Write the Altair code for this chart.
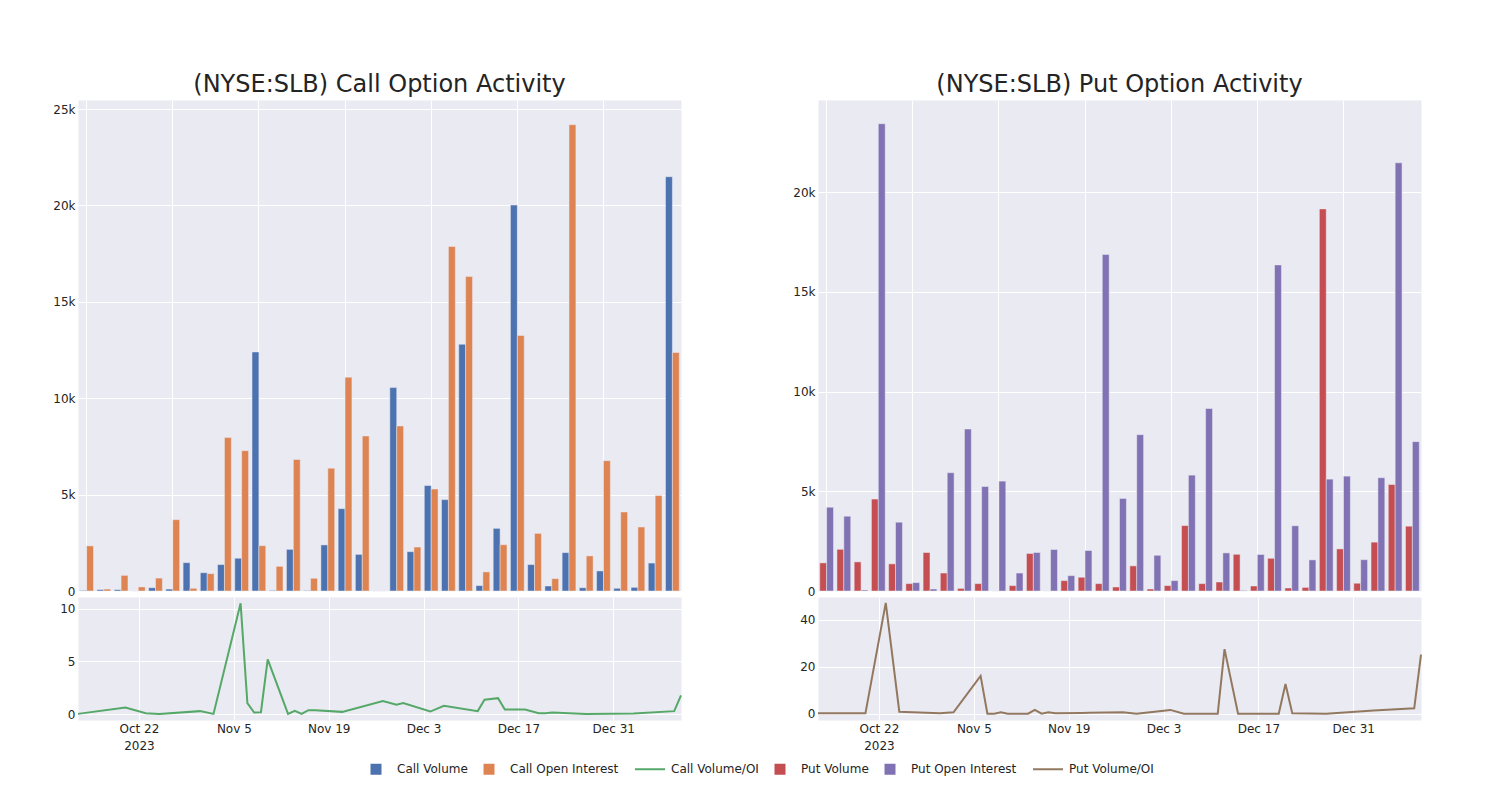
import altair as alt
import pandas as pd

# ---------------- data ----------------
dates = ["2023-10-13", "2023-10-20", "2023-10-23", "2023-10-25", "2023-10-31",
         "2023-11-02", "2023-11-06", "2023-11-07", "2023-11-08", "2023-11-09",
         "2023-11-10", "2023-11-13", "2023-11-14", "2023-11-15", "2023-11-16",
         "2023-11-17", "2023-11-21", "2023-11-22", "2023-11-27", "2023-11-29",
         "2023-11-30", "2023-12-04", "2023-12-06", "2023-12-11", "2023-12-12",
         "2023-12-14", "2023-12-15", "2023-12-18", "2023-12-20", "2023-12-21",
         "2023-12-22", "2023-12-27", "2024-01-03", "2024-01-09", "2024-01-10"]

call_volume = [30, 70, 70, 0, 170, 100, 1470, 950, 1370, 1700,
               12400, 30, 2160, 20, 2390, 4270, 1900, 0, 10550, 2040,
               5470, 4740, 12800, 280, 3250, 20020, 1370, 260, 1990, 170,
               1040, 140, 190, 1450, 21490]
call_oi = [2340, 100, 810, 210, 670, 3700, 140, 900, 7960, 7280,
           2350, 1280, 6820, 660, 6370, 11090, 8040, 0, 8560, 2280,
           5290, 17870, 16310, 990, 2400, 13250, 2990, 640, 24190, 1820,
           6760, 4100, 3320, 4950, 12370]
call_ratio = [0.03, 0.63, 0.1, 0.03, 0.29, 0.03, 10.5, 1.05, 0.16, 0.19,
              5.2, 0.03, 0.32, 0.03, 0.38, 0.38, 0.22, None, 1.24, 0.89,
              1.05, 0.25, 0.79, 0.29, 1.37, 1.52, 0.44, 0.44, 0.1, 0.09,
              0.16, 0.03, 0.06, 0.29, 1.78]

put_volume = [1410, 2090, 1460, 4610, 1360, 370, 1930, 900, 130, 370,
              0, 270, 1880, 0, 520, 690, 370, 200, 1260, 100,
              270, 3280, 370, 450, 1840, 250, 1640, 150, 180, 19160,
              2110, 390, 2450, 5340, 3250]
put_oi = [4200, 3750, 50, 23430, 3450, 420, 100, 5930, 8120, 5240,
          5510, 900, 1930, 2080, 770, 2030, 16870, 4640, 7840, 1790,
          520, 5810, 9150, 1910, 30, 1830, 16350, 3270, 1560, 5610,
          5760, 1570, 5680, 21470, 7490]
put_ratio = [0.15, 0.15, 47.2, 0.85, 0.15, 0.57, 16.1, 0.0, 0.0, 0.57,
             0.0, 0.0, 1.6, 0.0, 0.57, 0.15, 0.3, 0.4, 0.6, 0.0,
             0.3, 1.6, 0.0, 0.0, 27.5, 0.0, 0.0, 0.0, 0.0, 12.6,
             0.15, 0.0, 1.3, 2.3, 25.2]

series_names = ["Call Volume", "Call Open Interest", "Call Volume/OI",
                "Put Volume", "Put Open Interest", "Put Volume/OI"]
series_colors = ["#4C72B0", "#DD8452", "#55A868", "#C44E52", "#8172B3", "#937860"]
line_series = ["Call Volume/OI", "Put Volume/OI"]

FONT = "DejaVu Sans"
TXT = "#242424"
BG = "#EAEAF2"
W = 603
H_TOP = 491
H_BOT = 123


def bars_frame(vol, oi, vname, oname):
    rows = []
    for d, v, o in zip(dates, vol, oi):
        rows.append({"date": d, "series": vname, "value": v})
        rows.append({"date": d, "series": oname, "value": o})
    return pd.DataFrame(rows)


def line_frame(ratio, name):
    return pd.DataFrame({"date": dates, "series": name, "value": ratio})


color_scale = alt.Scale(domain=series_names, range=series_colors)
k_expr = "datum.value == 0 ? '0' : format(datum.value / 1000, 'd') + 'k'"

shape_expr = ("(datum && indexof(['" + "','".join(line_series) + "'], datum.value) >= 0) ? "
              "'M-3,-0.9M-3,0.9M-3,0H3' : 'M-0.9,-0.9H0.9V0.9H-0.9Z'")
stroke_expr = "datum ? scale('color', datum.value) : 'transparent'"
main_legend = alt.Legend(
    title=None, orient="none", direction="horizontal", legendX=292, legendY=663,
    symbolType=alt.ExprRef(expr=shape_expr),
    symbolStrokeColor=alt.ExprRef(expr=stroke_expr),
    symbolStrokeWidth=2,
)


def bar_panel(df, title, ymax, pair, legend):
    return alt.Chart(df, title=alt.Title(
        title, fontSize=24, font=FONT, color=TXT, fontWeight="normal",
        anchor="middle", offset=3)).mark_bar(
        stroke=BG, strokeWidth=0.5
    ).encode(
        x=alt.X("date:N", sort=dates,
                scale=alt.Scale(paddingInner=0.2, paddingOuter=0.1),
                axis=alt.Axis(labels=False, title=None, grid=True,
                              values=dates[::5], bandPosition=0.5)),
        xOffset=alt.XOffset("series:N", sort=pair),
        y=alt.Y("value:Q", scale=alt.Scale(domain=[0, ymax], nice=False),
                axis=alt.Axis(values=[0, 5000, 10000, 15000, 20000, 25000],
                              labelExpr=k_expr, title=None)),
        color=alt.Color("series:N", scale=color_scale, legend=legend),
    ).properties(width=W, height=H_TOP).resolve_scale(xOffset="independent")


label_expr = ("(utcmonth(datum.value) == 9 && utcdate(datum.value) == 22) ? "
              "[utcFormat(datum.value, '%b %-d'), '2023'] : utcFormat(datum.value, '%b %-d')")
tick_dates = [alt.DateTime(year=2023, month=10, date=22, utc=True),
              alt.DateTime(year=2023, month=11, date=5, utc=True),
              alt.DateTime(year=2023, month=11, date=19, utc=True),
              alt.DateTime(year=2023, month=12, date=3, utc=True),
              alt.DateTime(year=2023, month=12, date=17, utc=True),
              alt.DateTime(year=2023, month=12, date=31, utc=True)]
x_domain = [alt.DateTime(year=2023, month=10, date=13, utc=True),
            alt.DateTime(year=2024, month=1, date=10, utc=True)]


def line_panel(df, ydom, yticks):
    return alt.Chart(df).transform_filter("isValid(datum.value)").mark_line(
        strokeWidth=2
    ).encode(
        x=alt.X("date:T", scale=alt.Scale(type="utc", domain=x_domain, nice=False),
                axis=alt.Axis(values=tick_dates, labelExpr=label_expr, title=None,
                              labelLineHeight=17)),
        y=alt.Y("value:Q", scale=alt.Scale(domain=ydom, nice=False, zero=False),
                axis=alt.Axis(values=yticks, title=None)),
        color=alt.Color("series:N", scale=color_scale, legend=None),
    ).properties(width=W, height=H_BOT)


call_top = bar_panel(bars_frame(call_volume, call_oi, "Call Volume", "Call Open Interest"),
                     "(NYSE:SLB) Call Option Activity", 25470,
                     ["Call Volume", "Call Open Interest"], main_legend)
put_top = bar_panel(bars_frame(put_volume, put_oi, "Put Volume", "Put Open Interest"),
                    "(NYSE:SLB) Put Option Activity", 24620,
                    ["Put Volume", "Put Open Interest"], None)
call_bot = line_panel(line_frame(call_ratio, "Call Volume/OI"), [-0.55, 11.1], [0, 5, 10])
put_bot = line_panel(line_frame(put_ratio, "Put Volume/OI"), [-2.7, 49.7], [0, 20, 40])

left = alt.vconcat(call_top, call_bot, spacing=6, bounds="flush")
right = alt.vconcat(put_top, put_bot, spacing=6, bounds="flush")

chart = alt.hconcat(left, right, spacing=106).properties(
    padding={"left": 44, "top": 64, "right": 5, "bottom": 5},
    background="white",
).resolve_scale(xOffset="independent").configure_view(
    fill=BG, stroke="transparent"
).configure_axis(
    domain=False, ticks=False, tickSize=0, grid=True, gridColor="white", gridWidth=1,
    labelFont=FONT, labelFontSize=12, labelColor=TXT, labelPadding=3,
).configure_legend(
    labelFont=FONT, labelFontSize=12, labelColor=TXT, symbolSize=100,
    labelOffset=15, columnPadding=12,
)

chart.save("out.html", embed_options={"renderer": "svg", "actions": False})
